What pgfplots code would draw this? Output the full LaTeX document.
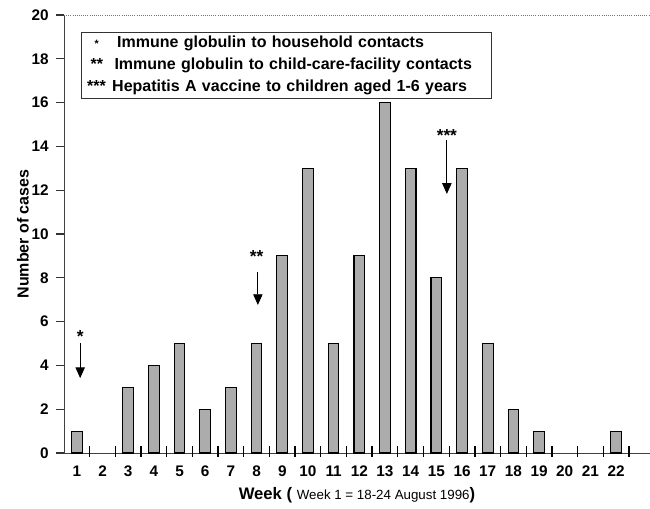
\documentclass[border=0pt]{standalone}
\usepackage{pgfplots}
\pgfplotsset{compat=1.18}
\usepackage{fontspec}
\setmainfont{Liberation Sans}
\usetikzlibrary{arrows.meta}
\definecolor{barfill}{RGB}{172,172,172}
\begin{document}
\begin{tikzpicture}
\begin{axis}[
  scale only axis,
  width=439.5pt, height=328.5pt,
  xmin=0.5, xmax=23.32, ymin=0, ymax=20,
  axis x line*=bottom, axis y line*=left,
  axis line style={black!75, line width=0.7pt},
  xtick={1.5,2.5,...,22.5},
  xticklabels={1,2,3,4,5,6,7,8,9,10,11,12,13,14,15,16,17,18,19,20,21,22},
  tick style={black!80, line width=0.8pt},
  xtick align=center,
  major tick length=6pt,
  ytick={0,2,...,20},
  ytick align=outside,
  /pgf/number format/assume math mode=true,
  tick label style={font=\bfseries\fontsize{11.5}{13}\selectfont},
  x tick label style={yshift=-3pt, xshift=-9.63pt},
  y tick label style={xshift=-2pt},
  xlabel={\fontsize{12.5}{14}\selectfont\bfseries Week ( {\mdseries\fontsize{10}{12}\selectfont Week 1 = 18-24 August 1996})},
  xlabel style={yshift=-1pt},
  ylabel={\bfseries\fontsize{12}{14}\selectfont Number of cases},
  ylabel style={at={(axis description cs:-0.07,0.5)}, anchor=center},
  clip=false,
]
\addplot[ybar, bar width=8pt, fill=barfill, draw=black, line width=0.8pt] coordinates {
 (1,1) (3,3) (4,4) (5,5) (6,2) (7,3) (8,5) (9,9) (10,13) (11,5)
 (12,9) (13,16) (14,13) (15,8) (16,13) (17,5) (18,2) (19,1) (22,1)
};
\pgfplotsinvokeforeach{1.5,2.5,...,22.5}{
  \draw[black, line width=1pt] ([yshift=-3pt]axis cs:#1,0) -- ([yshift=5pt]axis cs:#1,0);
}
\draw[black!55, line width=0.6pt, densely dotted] (axis cs:0.5,20) -- (axis cs:23.32,20);
% arrows
\draw[line width=0.6pt, -{Triangle[width=7pt,length=8pt]}] (axis cs:1.13,5.02) -- (axis cs:1.13,3.42);
\node[font=\bfseries\fontsize{13}{14}\selectfont, inner sep=0pt] at (axis cs:1.13,5.3) {*};
\draw[line width=0.6pt, -{Triangle[width=7pt,length=8pt]}] (axis cs:8.05,8.26) -- (axis cs:8.05,6.76);
\node[font=\bfseries\fontsize{13}{14}\selectfont, inner sep=0pt] at (axis cs:8.0,8.95) {**};
\draw[line width=0.6pt, -{Triangle[width=7pt,length=8pt]}] (axis cs:15.41,14.3) -- (axis cs:15.41,11.83);
\node[font=\bfseries\fontsize{13}{14}\selectfont, inner sep=0pt] at (axis cs:15.41,14.5) {***};
% legend box
\node[draw=black!80, line width=0.8pt, anchor=north west, align=left, text width=299pt, inner xsep=4.5pt, inner ysep=3pt,
      font=\bfseries\fontsize{12}{16.3}\selectfont] at (axis cs:1.15,19.24)
{\makebox[22.5pt][l]{\hspace{5.5pt}{\fontsize{8}{8}\selectfont *}}Immune globulin to household contacts\\
 \makebox[20.5pt][l]{\hspace{2.5pt}**}Immune globulin to child-care-facility contacts\\
 \makebox[18.75pt][l]{***}Hepatitis A vaccine to children aged 1-6 years};
\end{axis}
\pgfresetboundingbox
\path[use as bounding box] ([shift={(-48pt,-42pt)}]current axis.south west) rectangle ([shift={(0pt,11.25pt)}]current axis.north east);
\end{tikzpicture}
\end{document}
